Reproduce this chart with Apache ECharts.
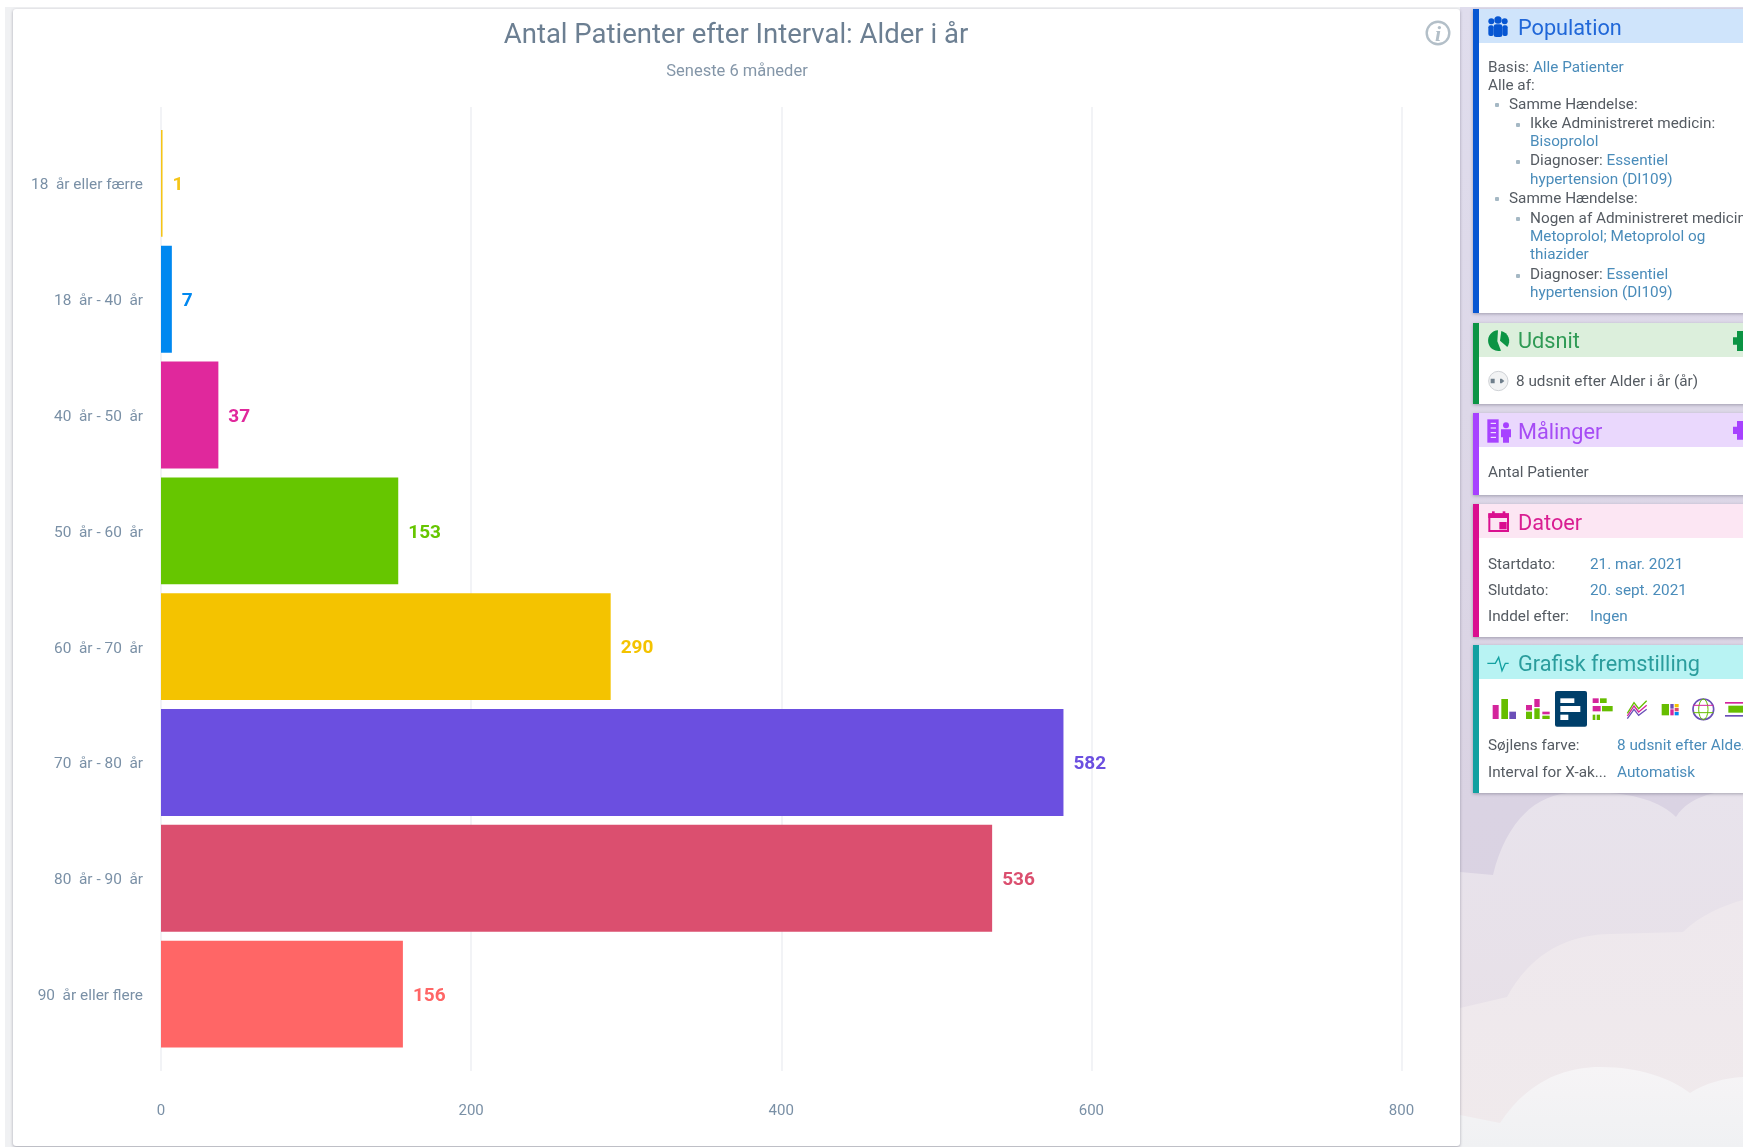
<!DOCTYPE html>
<html lang="da">
<head>
<meta charset="utf-8">
<title>Antal Patienter efter Interval</title>
<script src="https://cdn.jsdelivr.net/npm/echarts@6/dist/echarts.min.js"></script>
<style>
html,body{margin:0;padding:0;width:1743px;height:1147px;overflow:hidden;background:#fff;font-family:Roboto,sans-serif;}
#strip{position:absolute;left:5px;top:7px;width:1738px;height:1140px;background:#f0f1f3;}
#bg{position:absolute;left:1460px;top:7px;}
#card{position:absolute;left:13px;top:9px;width:1447px;height:1137px;background:#fff;border-radius:3px;box-shadow:0 1px 3px rgba(70,70,90,.45);}
#chart{position:absolute;left:0;top:0;width:1461px;height:1147px;}
.panel{position:absolute;left:1473px;width:280px;background:#fff;box-shadow:0 1px 3px rgba(70,70,90,.4);}
.bar{position:absolute;left:0;top:0;bottom:0;width:6px;}
.head{position:absolute;left:6px;right:0;top:0;height:34px;}
.head span{position:absolute;left:39px;top:5px;font-size:21.7px;line-height:28px;white-space:nowrap;}
.t{position:absolute;font-size:15.3px;line-height:18px;margin-top:2px;color:#555b62;white-space:nowrap;}
#pop .t{margin-top:1px;}
.t b{font-weight:400;color:#4a8cba;}
.dot{position:absolute;width:4px;height:4px;margin-top:1px;border-radius:1px;background:#a5b8c4;}
#over{position:absolute;left:1400px;top:0;pointer-events:none;}
#info{position:absolute;left:1425px;top:20px;}
#clip{position:absolute;left:0;top:0;width:1743px;height:1147px;overflow:hidden;}
</style>
</head>
<body>
<div id="clip">
<div id="strip"></div>
<svg id="bg" width="283" height="1140" viewBox="1460 7 283 1140">
  <defs>
    <linearGradient id="g0" x1="0" y1="0" x2="0" y2="1"><stop offset="0" stop-color="#e0dded"/><stop offset=".7" stop-color="#dad3e3"/><stop offset="1" stop-color="#dad2e1"/></linearGradient>
    <linearGradient id="g1" x1="0" y1="0" x2="0" y2="1"><stop offset="0" stop-color="#e8e3ec"/><stop offset="1" stop-color="#e7dfe6"/></linearGradient>
    <linearGradient id="g2" x1="0" y1="0" x2="0" y2="1"><stop offset="0" stop-color="#eee8ed"/><stop offset="1" stop-color="#f0eaec"/></linearGradient>
    <linearGradient id="g3" x1="0" y1="0" x2="0" y2="1"><stop offset="0" stop-color="#f6f4f6"/><stop offset="1" stop-color="#f0f1f3"/></linearGradient>
  </defs>
  <rect x="1460" y="7" width="283" height="1140" fill="url(#g0)"/>
  <path d="M1460 872 L1493 875 C1505 825 1535 790 1580 793 C1625 790 1660 800 1676 817 C1690 795 1720 790 1743 790 L1743 1147 L1460 1147Z" fill="url(#g1)"/>
  <path d="M1460 1008 L1507 997 C1530 955 1565 935 1610 934 L1683 932 C1700 915 1725 905 1743 900 L1743 1147 L1460 1147Z" fill="url(#g2)"/>
  <path d="M1460 1115 L1500 1123 C1525 1085 1560 1067 1600 1067 C1640 1067 1670 1078 1690 1093 C1705 1083 1725 1078 1743 1077 L1743 1147 L1460 1147Z" fill="url(#g3)"/>
</svg>
<div id="card"></div>
<div id="chart"></div>
<svg id="info" width="26" height="26" viewBox="0 0 26 26">
  <circle cx="13" cy="13" r="11.3" fill="none" stroke="#b3bfc8" stroke-width="2.4"/>
  <text x="13" y="20.5" font-family="Liberation Serif,serif" font-style="italic" font-weight="700" font-size="22" fill="#b3bfc8" text-anchor="middle">i</text>
</svg>

<div class="panel" id="pop" style="top:9px;height:304px;">
  <div class="bar" style="background:#0756d2"></div>
  <div class="head" style="background:#cfe4fb;color:#2067d8"><span>Population</span></div>
  <div class="t" style="left:15px;top:48px;">Basis: <b>Alle Patienter</b></div>
  <div class="t" style="left:15px;top:66px;">Alle af:</div>
  <div class="dot" style="left:22px;top:93px;"></div>
  <div class="t" style="left:36px;top:85px;">Samme Hændelse:</div>
  <div class="dot" style="left:43px;top:113px;"></div>
  <div class="t" style="left:57px;top:104px;">Ikke Administreret medicin:</div>
  <div class="t" style="left:57px;top:122px;"><b>Bisoprolol</b></div>
  <div class="dot" style="left:43px;top:150px;"></div>
  <div class="t" style="left:57px;top:141px;">Diagnoser: <b>Essentiel</b></div>
  <div class="t" style="left:57px;top:160px;"><b>hypertension (DI109)</b></div>
  <div class="dot" style="left:22px;top:187px;"></div>
  <div class="t" style="left:36px;top:179px;">Samme Hændelse:</div>
  <div class="dot" style="left:43px;top:207px;"></div>
  <div class="t" style="left:57px;top:199px;">Nogen af Administreret medicin:</div>
  <div class="t" style="left:57px;top:217px;"><b>Metoprolol; Metoprolol og</b></div>
  <div class="t" style="left:57px;top:235px;"><b>thiazider</b></div>
  <div class="dot" style="left:43px;top:264px;"></div>
  <div class="t" style="left:57px;top:255px;">Diagnoser: <b>Essentiel</b></div>
  <div class="t" style="left:57px;top:273px;"><b>hypertension (DI109)</b></div>
</div>

<div class="panel" style="top:323px;height:81px;">
  <div class="bar" style="background:#0b9444"></div>
  <div class="head" style="background:#dcefdc;color:#2f9a55"><span style="top:4px">Udsnit</span></div>
  <div class="t" style="left:43px;top:47px;">8 udsnit efter Alder i år (år)</div>
</div>

<div class="panel" style="top:413px;height:82px;">
  <div class="bar" style="background:#a742ff"></div>
  <div class="head" style="background:#ead8fd;color:#a64cf5"><span>Målinger</span></div>
  <div class="t" style="left:15px;top:48px;">Antal Patienter</div>
</div>

<div class="panel" style="top:504px;height:133px;">
  <div class="bar" style="background:#da0f8f"></div>
  <div class="head" style="background:#fce6f3;color:#d91e92"><span>Datoer</span></div>
  <div class="t" style="left:15px;top:49px;">Startdato:</div><div class="t" style="left:117px;top:49px;"><b>21. mar. 2021</b></div>
  <div class="t" style="left:15px;top:75px;">Slutdato:</div><div class="t" style="left:117px;top:75px;"><b>20. sept. 2021</b></div>
  <div class="t" style="left:15px;top:101px;">Inddel efter:</div><div class="t" style="left:117px;top:101px;"><b>Ingen</b></div>
</div>

<div class="panel" style="top:645px;height:148px;">
  <div class="bar" style="background:#12a0a0"></div>
  <div class="head" style="background:#b8f3f3;color:#2a9d9d"><span>Grafisk fremstilling</span></div>
  <div class="t" style="left:15px;top:89px;">Søjlens farve:</div><div class="t" style="left:144px;top:89px;"><b>8 udsnit efter Alde...</b></div>
  <div class="t" style="left:15px;top:116px;">Interval for X-ak...</div><div class="t" style="left:144px;top:116px;"><b>Automatisk</b></div>
</div>

<svg id="over" width="343" height="1147" viewBox="0 0 1029 3441">
  <!-- population -->
  <g fill="#0756d2">
    <circle cx="294" cy="60" r="11"/><rect x="281" y="73" width="26" height="38" rx="7"/>
    <circle cx="274" cy="64" r="9"/><rect x="265" y="76" width="16" height="32" rx="6"/>
    <circle cx="314" cy="64" r="9"/><rect x="307" y="76" width="16" height="32" rx="6"/>
  </g>
  <!-- udsnit -->
  <g transform="translate(0,-28)">
    <path d="M294 1019 A31 31 0 1 0 303 1080 L292 1052Z" fill="#0b9444"/>
    <path d="M304 1021 A31 31 0 0 1 322 1069 L300 1050Z" fill="#0b9444"/>
  </g>
  <circle cx="295" cy="1143" r="29" fill="#f2f3f4" stroke="#cfd2d6" stroke-width="3"/>
  <path d="M272 1136h12v14h-12zM300 1136h5l8 7-8 7h-5z" fill="#6f7f8c"/>
  <path d="M1011 993h18v60h-18v-19h-12v-22h12z" fill="#0b9444"/>
  <!-- malinger -->
  <g fill="#a742ff" transform="translate(0,18)">
    <rect x="262" y="1240" width="34" height="70" />
    <circle cx="318" cy="1258" r="9"/><path d="M303 1270h30v24h-6v16h-18v-16h-6z"/>
  </g>
  <g stroke="#fff" stroke-width="3" transform="translate(0,18)"><path d="M272 1252h16M272 1266h16M272 1280h16M272 1294h16"/></g>
  <path d="M1011 1263h18v56h-18v-17h-12v-22h12z" fill="#a742ff"/>
  <!-- datoer -->
  <g fill="#da0f8f" transform="translate(0,20)">
    <rect x="268" y="1523" width="56" height="50" fill="none" stroke="#da0f8f" stroke-width="6"/>
    <rect x="265" y="1520" width="62" height="14"/>
    <rect x="276" y="1514" width="8" height="14"/><rect x="308" y="1514" width="8" height="14"/>
    <rect x="298" y="1546" width="22" height="22"/>
  </g>
  <!-- grafisk -->
  <path d="M262 1990h24l10-18 10 40 10-22h10" fill="none" stroke="#12a0a0" stroke-width="4"/>
  <!-- chart type icons -->
  <g transform="translate(0,1890)">
    <rect x="278" y="225" width="18" height="42" fill="#d4259c"/><rect x="304" y="207" width="20" height="60" fill="#66bd00"/><rect x="328" y="245" width="20" height="22" fill="#6b4fb8"/>
    <rect x="378" y="225" width="18" height="16" fill="#d4259c"/><rect x="378" y="245" width="18" height="22" fill="#66bd00"/>
    <rect x="403" y="207" width="16" height="24" fill="#d4259c"/><rect x="403" y="235" width="16" height="32" fill="#66bd00"/>
    <rect x="427" y="245" width="22" height="8" fill="#d4259c"/><rect x="427" y="257" width="22" height="10" fill="#66bd00"/>
    <rect x="465" y="183" width="96" height="107" rx="6" fill="#003f6a"/>
    <rect x="481" y="205" width="42" height="14" fill="#fff"/><rect x="481" y="228" width="60" height="18" fill="#fff"/><rect x="481" y="254" width="24" height="16" fill="#fff"/>
    <rect x="578" y="205" width="18" height="14" fill="#d4259c"/><rect x="600" y="205" width="20" height="14" fill="#66bd00"/>
    <rect x="578" y="228" width="24" height="16" fill="#d4259c"/><rect x="606" y="228" width="32" height="16" fill="#66bd00"/>
    <rect x="578" y="254" width="8" height="16" fill="#66bd00"/><rect x="590" y="254" width="10" height="16" fill="#66bd00"/>
    <path d="M682 250l20-32 14 18 24-24" fill="none" stroke="#66bd00" stroke-width="4"/>
    <path d="M682 258l20-30 14 18 24-20" fill="none" stroke="#d4259c" stroke-width="4"/>
    <path d="M682 266l20-28 14 18 24-18" fill="none" stroke="#6b4fb8" stroke-width="4"/>
    <rect x="785" y="222" width="22" height="34" fill="#66bd00"/><rect x="811" y="222" width="10" height="14" fill="#6b4fb8"/><rect x="811" y="238" width="10" height="18" fill="#d4259c"/><rect x="824" y="222" width="12" height="10" fill="#f4c300"/><rect x="824" y="234" width="12" height="10" fill="#d84f6f"/><rect x="824" y="246" width="12" height="10" fill="#0088f0"/>
    <circle cx="910" cy="238" r="31" fill="none" stroke="#6b4fb8" stroke-width="5"/>
    <ellipse cx="910" cy="238" rx="14" ry="31" fill="none" stroke="#66bd00" stroke-width="3"/>
    <path d="M880 226h60" stroke="#d4259c" stroke-width="3"/><path d="M880 248h60" stroke="#66bd00" stroke-width="3"/>
    <rect x="975" y="216" width="54" height="5" fill="#d4259c"/><rect x="985" y="227" width="44" height="21" fill="#66bd00"/><rect x="975" y="255" width="54" height="5" fill="#6b4fb8"/>
  </g>
</svg>
</div>

<script>
const categories = ['18  år eller færre','18  år - 40  år','40  år - 50  år','50  år - 60  år','60  år - 70  år','70  år - 80  år','80  år - 90  år','90  år eller flere'];
const patientCounts = [1, 7, 37, 153, 290, 582, 536, 156];
const barColors = ['#f5c518','#0088f0','#e0289c','#66c600','#f4c300','#6b4fe0','#db4f6f','#ff6666'];
const axisTicks = { min: 0, max: 800, interval: 200 };
const titleText = 'Antal Patienter efter Interval: Alder i år';
const subtitleText = 'Seneste 6 måneder';

const chart = echarts.init(document.getElementById('chart'), null, { renderer: 'canvas' });
const fontFamily = 'Roboto';
chart.setOption({
  animation: false,
  backgroundColor: 'transparent',
  title: [
    { text: titleText, left: 731, top: 17, textAlign: 'center',
      textStyle: { fontFamily, fontSize: 27.5, fontWeight: 400, color: '#6c7f92' } },
    { text: subtitleText, left: 732, top: 58, textAlign: 'center',
      textStyle: { fontFamily, fontSize: 16.5, fontWeight: 400, color: '#8496a8' } }
  ],
  grid: [
    { left: 161, width: 1240.5, top: 125.5, height: 926.5, containLabel: false },
    { left: 161, width: 1240.5, top: 107, height: 964, containLabel: false },
    { left: 161, width: 1240.5, top: 127.5, height: 926.5, containLabel: false }
  ],
  xAxis: [
    { gridIndex: 0, type: 'value', min: axisTicks.min, max: axisTicks.max, interval: axisTicks.interval,
      show: false },
    { gridIndex: 1, type: 'value', min: axisTicks.min, max: axisTicks.max, interval: axisTicks.interval,
      axisLine: { show: false }, axisTick: { show: false },
      splitLine: { show: true, lineStyle: { color: '#f2f3f6', width: 2 } },
      axisLabel: { margin: 33, fontFamily, fontSize: 15, color: '#7a90a6' } },
    { gridIndex: 2, type: 'value', min: axisTicks.min, max: axisTicks.max, interval: axisTicks.interval,
      show: false }
  ],
  yAxis: [
    { gridIndex: 0, type: 'category', inverse: true, data: categories, show: false },
    { gridIndex: 1, type: 'value', min: 0, max: 1, show: false },
    { gridIndex: 2, type: 'category', inverse: true, data: categories,
      axisLine: { show: false }, axisTick: { show: false }, splitLine: { show: false },
      axisLabel: { margin: 18, fontFamily, fontSize: 15.4, color: '#7a90a6' } }
  ],
  series: [{
    type: 'bar',
    xAxisIndex: 0,
    yAxisIndex: 0,
    barCategoryGap: '7.7%',
    data: patientCounts.map((v, i) => ({
      value: v,
      itemStyle: { color: barColors[i] },
      label: { color: barColors[i] }
    })),
    label: { show: true, position: 'right', distance: 10, offset: [0, 2], fontFamily, fontSize: 19, fontWeight: 700 }
  }]
});
</script>
</body>
</html>
